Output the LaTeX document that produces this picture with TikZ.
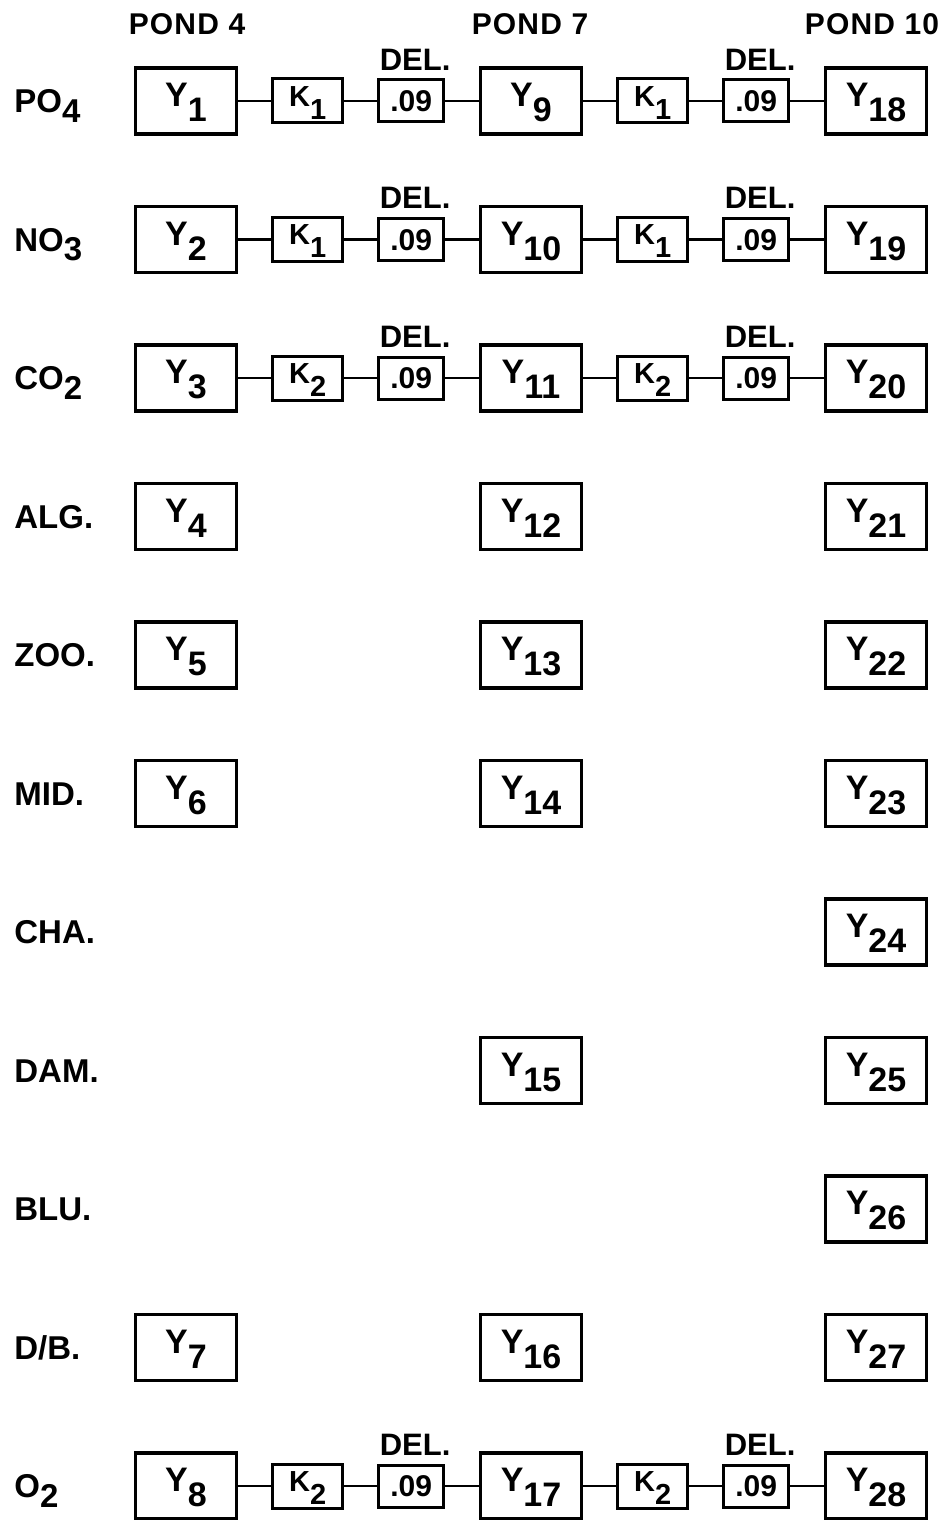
\documentclass[tikz,border=0pt]{standalone}
\usepackage{fontspec}
\setmainfont{Liberation Sans}
\usetikzlibrary{positioning}
\newcommand{\lowsub}[1]{\raisebox{-0.45em}{#1}}
\newcommand{\labsub}[1]{\raisebox{-0.3em}{#1}}
\tikzstyle{ybox}     = [rectangle, draw=black, line width=1.7pt, minimum width=50.4pt, minimum height=33pt,
                        inner sep=0pt, text height=12.5pt, text depth=7pt, font=\fontsize{17}{17}\selectfont\bfseries]
\tikzstyle{kbox}     = [rectangle, draw=black, line width=1.5pt, minimum width=35pt, minimum height=22pt,
                        inner sep=0pt, text height=10pt, text depth=5pt, font=\fontsize{14.5}{14.5}\selectfont\bfseries]
\tikzstyle{delbox}   = [rectangle, draw=black, line width=1.5pt, minimum width=32.5pt, minimum height=21pt,
                        inner sep=0pt, text height=10.5pt, text depth=0pt, font=\fontsize{15}{15}\selectfont\bfseries]
\tikzstyle{dellabel} = [inner sep=0pt, text height=10.8pt, text depth=0pt, font=\fontsize{15.5}{15.5}\selectfont\bfseries]
\tikzstyle{rowlabel} = [anchor=west, inner sep=0pt, text height=11.5pt, text depth=0pt,
                        font=\fontsize{16.5}{16.5}\selectfont\bfseries]
\tikzstyle{pond}     = [inner sep=0pt, text height=10.5pt, text depth=0pt,
                        font=\fontsize{15}{15}\selectfont\bfseries\addfontfeatures{LetterSpace=4}]
\tikzstyle{link}     = [line width=1.3pt]

\begin{document}
\begin{tikzpicture}[x=0.5pt, y=-0.5pt, node distance=16.5pt]
  \useasboundingbox (0,0) rectangle (952,1520);

  % pond headings
  \node (p4)  [pond] at (187,24) {POND 4};
  \node (p7)  [pond] at (530,24) {POND 7};
  \node (p10) [pond] at (872,24) {POND 10};

  % row labels
  \node (lpo)  [rowlabel] at (14,101)    {PO\labsub{4}};
  \node (lno)  [rowlabel] at (14,239.5)  {NO\labsub{3}};
  \node (lco)  [rowlabel] at (14,378)    {CO\labsub{2}};
  \node (lalg) [rowlabel] at (14,516.5)  {ALG.};
  \node (lzoo) [rowlabel] at (14,655)    {ZOO.};
  \node (lmid) [rowlabel] at (14,793.5)  {MID.};
  \node (lcha) [rowlabel] at (14,932)    {CHA.};
  \node (ldam) [rowlabel] at (14,1070.5) {DAM.};
  \node (lblu) [rowlabel] at (14,1209)   {BLU.};
  \node (ldb)  [rowlabel] at (14,1347.5) {D/B.};
  \node (lo)   [rowlabel] at (14,1486)   {O\labsub{2}};

  % pond 4
  \node (y1) [ybox] at (186,101)    {Y\lowsub{1}};
  \node (y2) [ybox] at (186,239.5)  {Y\lowsub{2}};
  \node (y3) [ybox] at (186,378)    {Y\lowsub{3}};
  \node (y4) [ybox] at (186,516.5)  {Y\lowsub{4}};
  \node (y5) [ybox] at (186,655)    {Y\lowsub{5}};
  \node (y6) [ybox] at (186,793.5)  {Y\lowsub{6}};
  \node (y7) [ybox] at (186,1347.5) {Y\lowsub{7}};
  \node (y8) [ybox] at (186,1486)   {Y\lowsub{8}};

  % pond 7
  \node (y9)  [ybox] at (531,101)    {Y\lowsub{9}};
  \node (y10) [ybox] at (531,239.5)  {Y\lowsub{10}};
  \node (y11) [ybox] at (531,378)    {Y\lowsub{11}};
  \node (y12) [ybox] at (531,516.5)  {Y\lowsub{12}};
  \node (y13) [ybox] at (531,655)    {Y\lowsub{13}};
  \node (y14) [ybox] at (531,793.5)  {Y\lowsub{14}};
  \node (y15) [ybox] at (531,1070.5) {Y\lowsub{15}};
  \node (y16) [ybox] at (531,1347.5) {Y\lowsub{16}};
  \node (y17) [ybox] at (531,1486)   {Y\lowsub{17}};

  % pond 10
  \node (y18) [ybox] at (876,101)    {Y\lowsub{18}};
  \node (y19) [ybox] at (876,239.5)  {Y\lowsub{19}};
  \node (y20) [ybox] at (876,378)    {Y\lowsub{20}};
  \node (y21) [ybox] at (876,516.5)  {Y\lowsub{21}};
  \node (y22) [ybox] at (876,655)    {Y\lowsub{22}};
  \node (y23) [ybox] at (876,793.5)  {Y\lowsub{23}};
  \node (y24) [ybox] at (876,932)    {Y\lowsub{24}};
  \node (y25) [ybox] at (876,1070.5) {Y\lowsub{25}};
  \node (y26) [ybox] at (876,1209)   {Y\lowsub{26}};
  \node (y27) [ybox] at (876,1347.5) {Y\lowsub{27}};
  \node (y28) [ybox] at (876,1486)   {Y\lowsub{28}};

  % transfer chains: gain + delay between ponds
  \node (k1)  [kbox, right=of y1]    {K\lowsub{1}};
  \node (d1)  [delbox, right=of k1]  {.09};
  \node (k9)  [kbox, right=of y9]    {K\lowsub{1}};
  \node (d9)  [delbox, right=of k9]  {.09};
  \node (k2)  [kbox, right=of y2]    {K\lowsub{1}};
  \node (d2)  [delbox, right=of k2]  {.09};
  \node (k10) [kbox, right=of y10]   {K\lowsub{1}};
  \node (d10) [delbox, right=of k10] {.09};
  \node (k3)  [kbox, right=of y3]    {K\lowsub{2}};
  \node (d3)  [delbox, right=of k3]  {.09};
  \node (k11) [kbox, right=of y11]   {K\lowsub{2}};
  \node (d11) [delbox, right=of k11] {.09};
  \node (k8)  [kbox, right=of y8]    {K\lowsub{2}};
  \node (d8)  [delbox, right=of k8]  {.09};
  \node (k17) [kbox, right=of y17]   {K\lowsub{2}};
  \node (d17) [delbox, right=of k17] {.09};

  \node (dl1)  [dellabel, above=4pt of d1, xshift=2pt]  {DEL.};
  \node (dl9)  [dellabel, above=4pt of d9, xshift=2pt]  {DEL.};
  \node (dl2)  [dellabel, above=4pt of d2, xshift=2pt]  {DEL.};
  \node (dl10) [dellabel, above=4pt of d10, xshift=2pt] {DEL.};
  \node (dl3)  [dellabel, above=4pt of d3, xshift=2pt]  {DEL.};
  \node (dl11) [dellabel, above=4pt of d11, xshift=2pt] {DEL.};
  \node (dl8)  [dellabel, above=4pt of d8, xshift=2pt]  {DEL.};
  \node (dl17) [dellabel, above=4pt of d17, xshift=2pt] {DEL.};

  \draw [link] (y1) -- (k1) -- (d1) -- (y9) -- (k9) -- (d9) -- (y18);
  \draw [link] (y2) -- (k2) -- (d2) -- (y10) -- (k10) -- (d10) -- (y19);
  \draw [link] (y3) -- (k3) -- (d3) -- (y11) -- (k11) -- (d11) -- (y20);
  \draw [link] (y8) -- (k8) -- (d8) -- (y17) -- (k17) -- (d17) -- (y28);
\end{tikzpicture}
\end{document}
